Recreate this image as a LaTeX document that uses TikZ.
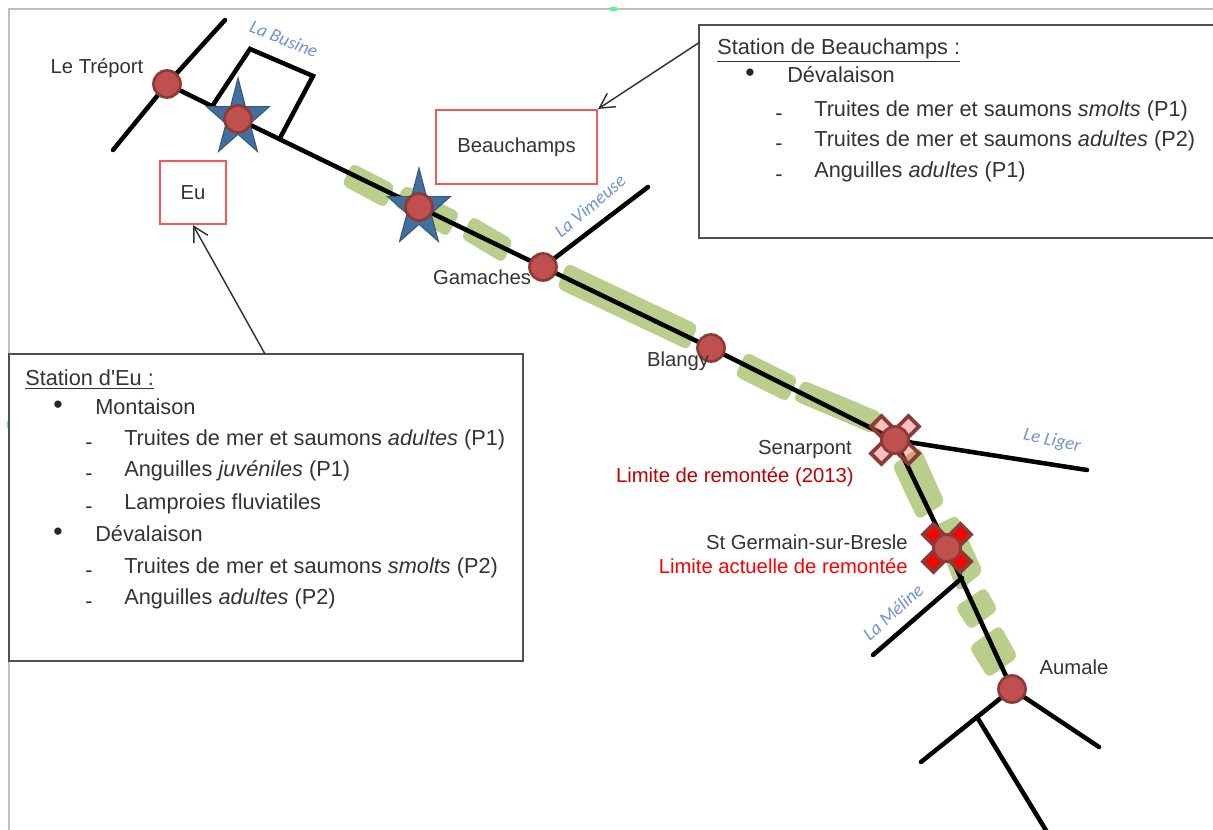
\documentclass[tikz,border=0pt]{standalone}
\usepackage{fontspec}
\setmainfont{Liberation Sans}
\newfontfamily\rivfont{Carlito}
\usetikzlibrary{arrows.meta}
\pgfdeclarelayer{greenlayer}
\pgfdeclarelayer{linelayer}
\pgfdeclarelayer{marklayer}
\pgfsetlayers{greenlayer,linelayer,marklayer,main}
\definecolor{txt}{HTML}{333333}
\definecolor{stn}{HTML}{C0504D}
\definecolor{stnb}{HTML}{8C3A38}
\definecolor{grn}{HTML}{B9CE8A}
\definecolor{riv}{HTML}{6E94D2}
\definecolor{starf}{HTML}{41709F}
\definecolor{stard}{HTML}{33597F}
\definecolor{redbox}{HTML}{F25A5A}
\definecolor{boxl}{HTML}{505050}
\definecolor{dred}{HTML}{C00000}
\tikzset{
  x=0.75pt,y=-0.75pt,
  river/.style={line width=3.4pt,black,line cap=round,line join=miter},
  gblock/.style={fill=grn,rounded corners=4pt},
  station/.style={circle,fill=stn,draw=stnb,line width=2pt,minimum size=27*0.75pt,inner sep=0pt},
  redb/.style={rectangle,draw=redbox,line width=1.6pt,fill=white,font=\fontsize{15.2}{17}\selectfont,text=txt,inner sep=0pt},
  infobox/.style={rectangle,draw=boxl,line width=2pt,fill=white,inner sep=0pt},
  lab/.style={font=\fontsize{15.2}{17}\selectfont,text=txt,inner sep=0pt},
  info/.style={anchor=base west,font=\fontsize{16.3}{18}\selectfont,text=txt,inner sep=0pt},
  bul/.style={anchor=center,font=\fontsize{20}{20}\selectfont,text=black!85,inner sep=0pt},
  rivlab/.style={font=\rivfont\itshape\fontsize{14}{16}\selectfont,text=riv,inner sep=0pt},
  callout/.style={draw=txt,line width=1.1pt,-{Straight Barb[length=11pt,width=12pt]}},
  starshape/.style={fill=starf,draw=stard,line width=0.8pt,line join=miter},
  armline/.style={draw=stnb,line width=2.8pt,line join=miter}
}
\newcommand\gblk[4]{\path[gblock] (#1)--(#2)--(#3)--(#4)--cycle;}
\newcommand\bluestar[1]{%
  \begin{scope}[shift={(#1)}]
  \path[starshape] (0,-41)--(7.4,-12.4)--(31.4,-12.4)--(12,4.7)--(19.4,32.4)--(0,15.3)--(-19.4,32.4)--(-12,4.7)--(-31.4,-12.4)--(-7.4,-12.4)--cycle;
  \end{scope}}
\newcommand\crossmark[4]{%
  \begin{scope}[shift={(#1)}]
  \path[fill=stnb] (-15,0)--(0,-15)--(15,0)--(0,15)--cycle;
  \foreach \sx/\sy in {-1/-1,1/-1,-1/1,1/1}{
    \path[armline,fill=#2,fill opacity=#3]
      ({\sx*#4-10.5},{\sy*#4})--({\sx*#4},{\sy*#4-10.5})--({\sx*#4+10.5},{\sy*#4})--({\sx*#4},{\sy*#4+10.5})--cycle;
  }
  \end{scope}}
\begin{document}
\begin{tikzpicture}
\useasboundingbox (0,0) rectangle (1213,830);
% frame
\begin{pgfonlayer}{greenlayer}
\fill[white] (0,0) rectangle (1213,830);
\draw[gray!50,line width=0.8pt] (9,830)--(9,9)--(1213,9);
\fill[green!60!cyan!70] (610,7) rectangle (617,11);
\fill[green!60!cyan!70] (7,421) rectangle (11,428);
\gblk{352,163}{395,185}{385,208}{342,185}
\gblk{405,185}{460,213}{447,237}{393,205}
\gblk{472,216}{513,240}{503,263}{461,238}
\gblk{567,263}{698,325}{688,350}{557,288}
\gblk{746,352}{798,378}{787,402}{735,376}
\gblk{803,380}{882,413}{873,434}{793,400}
\gblk{892,465}{920,447}{945,503}{918,520}
\gblk{932,527}{957,515}{983,572}{958,592}
\gblk{955,607}{985,587}{998,610}{970,630}
\gblk{969,647}{1000,625}{1018,657}{988,678}
\end{pgfonlayer}
% stations
\node[station] (tre) at (167,84) {};
\node[station] (stEu) at (238,119) {};
\node[station] (stBe) at (419,207) {};
\node[station] (gam) at (543,267) {};
\node[station] (bla) at (711,348) {};
\node[station] (sen) at (895,440) {};
\node[station] (ger) at (947,548) {};
\node[station] (aum) at (1012,689) {};
% free ends
\coordinate (treN) at (225,20);
\coordinate (treS) at (113,150);
\coordinate (buA) at (213,105);
\coordinate (buB) at (250,49);
\coordinate (buC) at (313,76);
\coordinate (buD) at (280,138);
\coordinate (vim) at (648,187);
\coordinate (lig) at (1087,470);
\coordinate (melJ) at (962,578);
\coordinate (mel) at (873,655);
\coordinate (auR) at (1099,747);
\coordinate (auL) at (921,762);
\coordinate (auJ) at (977,717);
\coordinate (auS) at (1047,832);
\begin{pgfonlayer}{linelayer}
\draw[river] (tre)--(stEu)--(stBe)--(gam)--(bla)--(sen)--(ger)--(aum);
\draw[river] (treN)--(tre)--(treS);
\draw[river] (buA)--(buB)--(buC)--(buD);
\draw[river] (gam)--(vim);
\draw[river] (sen)--(lig);
\draw[river] (melJ)--(mel);
\draw[river] (aum)--(auR);
\draw[river] (aum)--(auL);
\draw[river] (auJ)--(auS);
\end{pgfonlayer}
\begin{pgfonlayer}{marklayer}
\bluestar{238,119}
\bluestar{419,209}
\crossmark{895,440}{red!70!white}{0.35}{13.5}
\crossmark{947,548}{red}{1}{13.5}
\end{pgfonlayer}
% boxes
\node[redb,minimum width=66*0.75pt,minimum height=63*0.75pt] (eu) at (193,192.5) {Eu};
\node[redb,minimum width=161*0.75pt,minimum height=74*0.75pt] (bea) at (516.5,147) {Beauchamps};
\node[infobox,minimum width=514*0.75pt,minimum height=307*0.75pt] (boxEu) at (266,507.5) {};
\node[infobox,minimum width=518*0.75pt,minimum height=213*0.75pt] (boxBe) at (958,131.5) {};
\coordinate (a1) at (265,354);
\coordinate (a2) at (700,42);
\draw[callout] (a1)--(eu.south);
\draw[callout] (a2)--(bea.north east);
% Eu box text
\node[info] (e0) at (25,386) {\underline{Station d\textquotesingle Eu :}};
\node[bul] (eb1) at (58,407) {•};
\node[info] (e1) at (95,414) {Montaison};
\node[info] (ed1) at (85,449) {-};
\node[info] (e2) at (124,445) {Truites de mer et saumons \textit{adultes} (P1)};
\node[info] (ed2) at (85,480) {-};
\node[info] (e3) at (124,476) {Anguilles \textit{juvéniles} (P1)};
\node[info] (ed3) at (85,513) {-};
\node[info] (e4) at (124,509) {Lamproies fluviatiles};
\node[bul] (eb2) at (58,534) {•};
\node[info] (e5) at (95,541) {Dévalaison};
\node[info] (ed4) at (85,577) {-};
\node[info] (e6) at (124,573) {Truites de mer et saumons \textit{smolts} (P2)};
\node[info] (ed5) at (85,608) {-};
\node[info] (e7) at (124,604) {Anguilles \textit{adultes} (P2)};
% Beauchamps box text
\node[info] (b0) at (717,55) {\underline{Station de Beauchamps :}};
\node[bul] (bb1) at (750,75) {•};
\node[info] (b1) at (787,83) {Dévalaison};
\node[info] (bd1) at (775,121) {-};
\node[info] (b2) at (814,117) {Truites de mer et saumons \textit{smolts} (P1)};
\node[info] (bd2) at (775,151) {-};
\node[info] (b3) at (814,147) {Truites de mer et saumons \textit{adultes} (P2)};
\node[info] (bd3) at (775,182) {-};
\node[info] (b4) at (814,178) {Anguilles \textit{adultes} (P1)};
% place labels
\node[lab] (lt) at (97,68) {Le Tréport};
\node[lab] (lg) at (482,277) {Gamaches};
\node[lab] (lb) at (678,361) {Blangy};
\node[lab,anchor=east] (ls) at (852,450) {Senarpont};
\node[lab,anchor=east,text=dred] (ls2) at (854,477) {Limite de remontée (2013)};
\node[lab,anchor=east] (lsg) at (908,542) {St Germain-sur-Bresle};
\node[lab,anchor=east,text=red] (lsg2) at (908,566) {Limite actuelle de remontée};
\node[lab] (la) at (1074,667) {Aumale};
% rivers
\node[rivlab,rotate=-22] (rb) at (284,39) {La Busine};
\node[rivlab,rotate=40] (rv) at (590,206) {La Vimeuse};
\node[rivlab,rotate=-12] (rl) at (1052,441) {Le Liger};
\node[rivlab,rotate=42] (rm) at (893,612) {La Méline};
\end{tikzpicture}
\end{document}
